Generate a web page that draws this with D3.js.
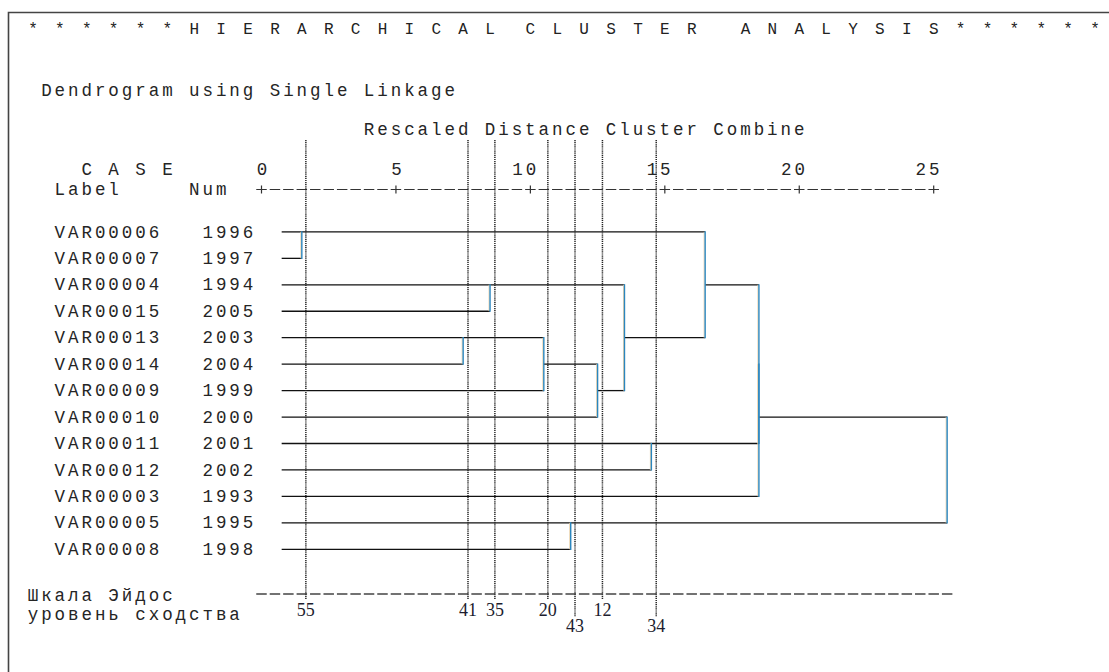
<!DOCTYPE html>
<html>
<head>
<meta charset="utf-8">
<script src="https://cdn.jsdelivr.net/npm/d3@7"></script>
<style>
  body { margin: 0; background: #fff; }
  svg { display: block; }
  text { white-space: pre; }
</style>
</head>
<body>
<svg id="chart"></svg>
<script>
// case labels and numbers, in dendrogram order (top to bottom)
var caseLabels = ["VAR00006", "VAR00007", "VAR00004", "VAR00015", "VAR00013", "VAR00014",
                  "VAR00009", "VAR00010", "VAR00011", "VAR00012", "VAR00003", "VAR00005", "VAR00008"];
var caseNums = [1996, 1997, 1994, 2005, 2003, 2004, 1999, 2000, 2001, 2002, 1993, 1995, 1998];

// agglomeration steps: node ids 0..12 are the cases, each step makes id 13, 14, ...
var mergeLeft   = [0, 4, 2, 14, 11, 16, 15, 8, 13, 21, 22, 23];
var mergeRight  = [1, 5, 3, 6, 12, 7, 18, 9, 19, 20, 10, 17];
var mergeHeight = [1.5, 7.5, 8.5, 10.5, 11.5, 12.5, 13.5, 14.5, 16.5, 18.5, 18.5, 25.5];

// rescaled distance axis
var distTicks = [0, 5, 10, 15, 20, 25];

// Eidos similarity levels (dotted lines) and their rescaled positions
var eidosLevels = [55, 41, 35, 20, 43, 12, 34];
var eidosDist   = [1.65, 7.68, 8.68, 10.65, 11.66, 12.68, 14.68];
var eidosLow    = [false, false, false, false, true, false, true];

var W = 1109, H = 672;
var mono = "'Liberation Mono', 'DejaVu Sans Mono', monospace";
var serif = "'Liberation Serif', 'DejaVu Serif', serif";
var textColor = "#252525";
var fontSize = 17.5;

var svg = d3.select("#chart").attr("width", W).attr("height", H);
svg.append("rect").attr("width", W).attr("height", H).attr("fill", "#fff");

var x = d3.scaleLinear().domain([0, 25]).range([261.5, 933.7]);
var cw = (x(25) - x(0)) / 50;          // one character cell = half a distance unit
function colCenter(c) { return x((c - 17) / 2); }

var y = d3.scalePoint().domain(d3.range(caseLabels.length)).range([231.9, 549.3]);

// monospace text laid out on the character grid
function gridText(str, col, baseline, size, color) {
  var chars = str.split("");
  return svg.append("text")
    .attr("x", chars.map(function (c, i) { return colCenter(col + i); }).join(" "))
    .attr("y", baseline)
    .attr("text-anchor", "middle")
    .attr("font-family", mono)
    .attr("font-size", size || fontSize)
    .attr("fill", color || textColor)
    .text(str);
}

// frame
svg.append("path")
  .attr("d", "M8.5," + H + "V12.5H" + W)
  .attr("fill", "none").attr("stroke", "#444").attr("stroke-width", 1.6);

// headings
gridText("* * * * * * H I E R A R C H I C A L  C L U S T E R   A N A L Y S I S * * * * * *", 0, 34, 16, "#222");
gridText("Dendrogram using Single Linkage", 1, 96);
gridText("Rescaled Distance Cluster Combine", 25, 135);
gridText("C A S E", 4, 175);
gridText("Label", 2, 195);
gridText("Num", 12, 195);

// tick labels through d3 axis, digits right aligned on the grid
var axisG = svg.append("g").attr("transform", "translate(0,175)")
  .call(d3.axisTop(x).tickValues(distTicks).tickSize(0).tickPadding(0).tickFormat(d3.format("d")));
axisG.select(".domain").remove();
axisG.selectAll("text")
  .attr("font-family", mono)
  .attr("font-size", fontSize)
  .attr("fill", textColor)
  .attr("text-anchor", "middle")
  .attr("dy", 0)
  .attr("y", 0)
  .attr("x", function (d) {
    var n = String(d).length;
    return d3.range(n).map(function (j) { return (j - (n - 1)) * cw; }).join(" ");
  });

// "+---------+" line
var axisY = 189.5;
svg.append("line")
  .attr("x1", x(0) - cw * 0.39).attr("x2", x(25) + cw * 0.39)
  .attr("y1", axisY).attr("y2", axisY)
  .attr("stroke", "#333").attr("stroke-width", 1.2)
  .attr("stroke-dasharray", (cw * 0.78) + "," + (cw * 0.22));
svg.selectAll(".plus").data(distTicks).enter().append("line")
  .attr("class", "plus")
  .attr("x1", function (d) { return x(d); }).attr("x2", function (d) { return x(d); })
  .attr("y1", axisY - 4).attr("y2", axisY + 4)
  .attr("stroke", "#333").attr("stroke-width", 1.2);

// case rows
caseLabels.forEach(function (lab, i) {
  gridText(lab, 2, y(i) + 5.6);
  gridText(String(caseNums[i]), 13, y(i) + 5.6);
});

// dendrogram
var pos = d3.range(caseLabels.length);
var startX = caseLabels.map(function () { return x(0.75); });
var hLines = [], vLines = [];
mergeLeft.forEach(function (a, k) {
  var b = mergeRight[k];
  var xm = x(mergeHeight[k]);
  hLines.push([startX[a], xm, y(pos[a])]);
  hLines.push([startX[b], xm, y(pos[b])]);
  vLines.push([xm, y(pos[a]), y(pos[b])]);
  pos.push(Math.floor((pos[a] + pos[b]) / 2));
  startX.push(xm);
});

svg.append("g").selectAll("line").data(hLines.filter(function (d) { return d[1] - d[0] > 0.5; }))
  .enter().append("line")
  .attr("x1", function (d) { return d[0]; }).attr("x2", function (d) { return d[1]; })
  .attr("y1", function (d) { return d[2]; }).attr("y2", function (d) { return d[2]; })
  .attr("stroke", "#111").attr("stroke-width", 1.3);

var vg = svg.append("g");
vg.selectAll(".vshade").data(vLines).enter().append("line")
  .attr("x1", function (d) { return d[0] - 1; }).attr("x2", function (d) { return d[0] - 1; })
  .attr("y1", function (d) { return Math.min(d[1], d[2]); })
  .attr("y2", function (d) { return Math.max(d[1], d[2]); })
  .attr("stroke", "#e9cfa6").attr("stroke-width", 0.9);
vg.selectAll(".vlink").data(vLines).enter().append("line")
  .attr("x1", function (d) { return d[0]; }).attr("x2", function (d) { return d[0]; })
  .attr("y1", function (d) { return Math.min(d[1], d[2]) - 0.6; })
  .attr("y2", function (d) { return Math.max(d[1], d[2]) + 0.6; })
  .attr("stroke", "#2a86bf").attr("stroke-width", 1.4);

// Eidos scale
gridText("Шкала Эйдос", 0, 600.5);
gridText("уровень сходства", 0, 620);
var eidosY = 594;
svg.append("line")
  .attr("x1", x(0) - cw * 0.39).attr("x2", x(25.5) + cw * 0.39)
  .attr("y1", eidosY).attr("y2", eidosY)
  .attr("stroke", "#444").attr("stroke-width", 1.4)
  .attr("stroke-dasharray", (cw * 0.78) + "," + (cw * 0.22));

svg.append("g").selectAll("line").data(eidosDist).enter().append("line")
  .attr("x1", function (d) { return x(d); }).attr("x2", function (d) { return x(d); })
  .attr("y1", 140)
  .attr("y2", function (d, i) { return eidosLow[i] ? 617 : 600; })
  .attr("stroke", "#222").attr("stroke-width", 1.5)
  .attr("stroke-dasharray", "1.2,0.9");

svg.append("g").selectAll("text").data(eidosLevels).enter().append("text")
  .attr("x", function (d, i) { return x(eidosDist[i]); })
  .attr("y", function (d, i) { return eidosLow[i] ? 632 : 616; })
  .attr("text-anchor", "middle")
  .attr("font-family", serif)
  .attr("font-size", 18)
  .attr("fill", "#1d1d2e")
  .text(function (d) { return d; });
</script>
</body>
</html>
